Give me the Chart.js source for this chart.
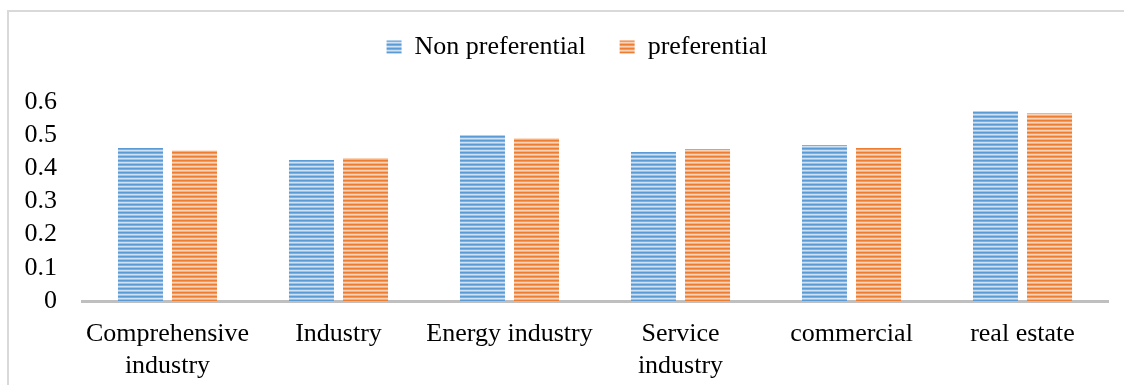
<!DOCTYPE html>
<html lang="en">
<head>
<meta charset="UTF-8">
<title>Preferential vs non preferential</title>
<script src="https://cdn.jsdelivr.net/npm/chart.js@4.4.1/dist/chart.umd.min.js"></script>
<style>
  body { margin: 0; background: #fff; }
  #frame {
    position: absolute; left: 7px; top: 10px; width: 1117px; height: 375px;
    border-left: 2px solid #d9d9d9; border-top: 2px solid #d9d9d9;
  }
  #chart { position: absolute; left: 0; top: 0; }
</style>
</head>
<body>
<div id="frame"></div>
<canvas id="chart" width="1124" height="385"></canvas>
<script>
  // data
  var categories = [
    ["Comprehensive", "industry"],
    "Industry",
    "Energy industry",
    ["Service", "industry"],
    "commercial",
    "real estate"
  ];
  var nonPreferential = [0.461, 0.425, 0.500, 0.449, 0.470, 0.572];
  var preferential    = [0.454, 0.431, 0.491, 0.458, 0.461, 0.566];
  var yTicks = [0, 0.1, 0.2, 0.3, 0.4, 0.5, 0.6];

  // horizontal stripes like the excel fill
  function stripes(rows) {
    var c = document.createElement("canvas");
    c.width = 1;
    c.height = rows.length;
    var g = c.getContext("2d");
    for (var i = 0; i < rows.length; i++) {
      g.fillStyle = rows[i];
      g.fillRect(0, i, 1, 1);
    }
    return document.getElementById("chart").getContext("2d").createPattern(c, "repeat");
  }
  var bluePattern = stripes(["#5b9bd5", "#7eb0de", "#cfe2f4", "#9cc2e6"]);
  var orangePattern = stripes(["#ed7d31", "#f19a5c", "#f9d3b8", "#f4b183"]);

  var serif = "'Liberation Serif', 'Times New Roman', serif";

  // fixed legend height so the plot starts where it does in the picture,
  // and nudge it right so it is centred like the original
  var legendPlace = {
    id: "legendPlace",
    beforeInit: function (chart) {
      var fit = chart.legend.fit;
      chart.legend.fit = function () {
        fit.bind(chart.legend)();
        this.height = 102;
      };
    },
    afterLayout: function (chart) {
      chart.legend.left += 23;
      chart.legend.right += 23;
    }
  };

  new Chart(document.getElementById("chart"), {
    type: "bar",
    data: {
      labels: categories,
      datasets: [
        { label: "Non preferential", data: nonPreferential, backgroundColor: bluePattern,
          categoryPercentage: 0.632, barPercentage: 0.833 },
        { label: "preferential", data: preferential, backgroundColor: orangePattern,
          categoryPercentage: 0.632, barPercentage: 0.833 }
      ]
    },
    plugins: [legendPlace],
    options: {
      responsive: false,
      animation: false,
      layout: { padding: { left: 0, right: 16, top: 0, bottom: 0 } },
      plugins: {
        tooltip: { enabled: false },
        legend: {
          position: "top",
          labels: {
            color: "#000",
            font: { family: serif, size: 26 },
            boxWidth: 15,
            boxHeight: 13,
            padding: 34
          }
        }
      },
      scales: {
        x: {
          grid: { display: false },
          border: { color: "#bfbfbf", width: 3 },
          ticks: { color: "#000", font: { family: serif, size: 26 }, padding: 10, maxRotation: 0, autoSkip: false },
          afterFit: function (scale) { scale.height = 84; }
        },
        y: {
          min: 0,
          max: 0.6,
          afterBuildTicks: function (axis) {
            axis.ticks = yTicks.map(function (v) { return { value: v }; });
          },
          grid: { display: false },
          border: { display: false },
          ticks: {
            color: "#000",
            font: { family: serif, size: 26 },
            padding: 17,
            autoSkip: false,
            callback: function (v) { return v === 0 ? "0" : v.toFixed(1); }
          },
          afterFit: function (scale) { scale.width = 82; }
        }
      }
    }
  });
</script>
</body>
</html>
